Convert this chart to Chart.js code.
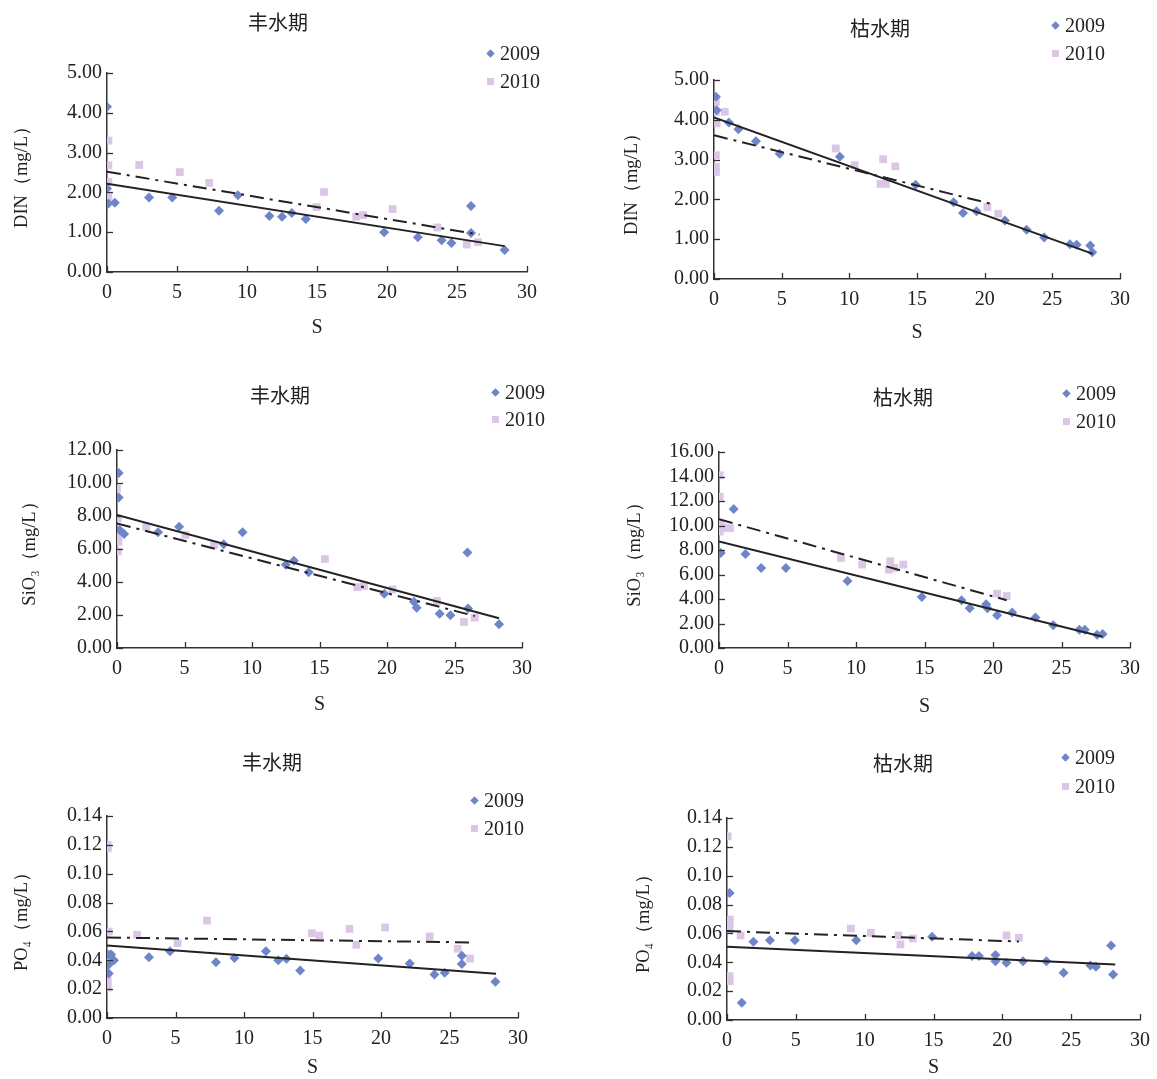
<!DOCTYPE html>
<html>
<head>
<meta charset="utf-8">
<script src="https://cdn.jsdelivr.net/npm/chart.js@4"></script>
<style>
  body { margin:0; width:1157px; height:1079px; overflow:hidden; position:relative; background:#fff; }
  canvas { position:absolute; }
  .legend { position:absolute; font-family:'Liberation Serif', serif; font-size:20px; color:#222; }
  .legend div { position:absolute; left:0; white-space:nowrap; line-height:24px; }
  .mk { display:inline-block; width:7px; height:7px; margin-right:6px; vertical-align:middle; position:relative; top:-2px; }
  .dia { background:#6e86c9; transform:rotate(45deg) scale(0.85,0.85); }
  .sq { background:#dcc6e6; }
</style>
</head>
<body>
<script>
// x axis (salinity S) ticks, shared by every panel
const xTicks = [0, 5, 10, 15, 20, 25, 30];

// DIN, wet season (丰水期)
const dinWet2009 = [[0,4.15],[0,2.10],[0.1,1.72],[0.56,1.74],[3.0,1.87],[4.66,1.87],[8.0,1.54],[9.35,1.93],[11.6,1.41],[12.5,1.39],[13.2,1.48],[14.2,1.33],[19.8,1.0],[22.2,0.87],[23.9,0.80],[24.6,0.73],[26.0,1.66],[26.0,0.98],[28.4,0.55]];
const dinWet2010 = [[0.1,3.30],[0.1,2.68],[0.1,2.26],[0.1,1.89],[2.3,2.69],[5.2,2.51],[7.3,2.24],[15.5,2.01],[14.97,1.63],[17.8,1.39],[18.3,1.43],[20.4,1.58],[23.6,1.12],[25.7,0.69],[26.5,0.75]];
const dinWetFit2009 = [[0,2.22],[28.4,0.65]];
const dinWetFit2010 = [[0,2.52],[26.6,0.94]];

// DIN, dry season (枯水期)
const dinDry2009 = [[0.14,4.58],[0.2,4.24],[1.1,3.93],[1.8,3.76],[3.1,3.46],[4.85,3.15],[9.3,3.07],[14.9,2.37],[17.7,1.93],[18.4,1.66],[19.4,1.70],[21.5,1.47],[23.1,1.24],[24.4,1.04],[26.3,0.87],[26.8,0.86],[27.8,0.84],[27.95,0.67]];
const dinDry2010 = [[0.14,4.45],[0.14,4.2],[0.2,3.91],[0.14,3.11],[0.14,2.82],[0.14,2.69],[0.8,4.20],[9.0,3.28],[10.4,2.86],[12.5,3.01],[12.3,2.39],[12.7,2.39],[13.4,2.83],[20.2,1.81],[21.0,1.64]];
const dinDryFit2009 = [[0,4.06],[28,0.63]];
const dinDryFit2010 = [[0,3.61],[20.7,1.87]];

// SiO3, wet season
const sioWet2009 = [[0.13,10.6],[0.13,9.12],[0.2,7.15],[0.53,6.91],[3.04,7.01],[4.6,7.35],[7.9,6.29],[9.3,7.01],[12.5,5.05],[13.1,5.29],[14.2,4.59],[19.8,3.29],[22.0,2.81],[22.2,2.44],[23.9,2.08],[24.7,1.98],[25.96,5.79],[26.0,2.40],[28.3,1.44]];
const sioWet2010 = [[0,9.66],[0.05,7.86],[0.1,6.85],[0.1,6.45],[0.05,5.85],[2.17,7.35],[5.07,6.85],[7.2,6.25],[15.4,5.39],[17.8,3.69],[18.3,3.75],[20.4,3.55],[23.7,2.85],[25.7,1.58],[26.5,1.84]];
const sioWetFit2009 = [[0,8.06],[28.3,1.80]];
const sioWetFit2010 = [[0,7.55],[26.5,1.94]];

// SiO3, dry season
const sioDry2009 = [[0.13,7.76],[1.07,11.35],[1.93,7.68],[3.08,6.54],[4.88,6.54],[9.38,5.46],[14.8,4.16],[17.7,3.89],[18.3,3.24],[19.5,3.57],[19.6,3.24],[20.3,2.68],[21.4,2.89],[23.1,2.49],[24.4,1.86],[26.3,1.49],[26.7,1.49],[27.6,1.08],[28.0,1.14]];
const sioDry2010 = [[0.05,14.1],[0.05,12.35],[0.13,10.19],[0.19,9.78],[0.46,9.84],[0.8,9.78],[0.05,9.5],[8.9,7.35],[10.45,6.81],[12.5,7.08],[12.4,6.4],[12.8,6.54],[13.45,6.81],[20.3,4.43],[21.0,4.24]];
const sioDryFit2009 = [[0,8.70],[28,0.92]];
const sioDryFit2010 = [[0,10.51],[21.0,3.9]];

// PO4, wet season
const po4Wet2009 = [[0.13,0.0439],[0.13,0.0371],[0.13,0.0309],[0.3,0.044],[0.51,0.0400],[3.06,0.0421],[4.6,0.0462],[7.95,0.0387],[9.3,0.0416],[11.6,0.0462],[12.5,0.0400],[13.1,0.0410],[14.1,0.0329],[19.8,0.0412],[22.1,0.0377],[23.9,0.0302],[24.65,0.0313],[25.9,0.0432],[25.9,0.0375],[28.35,0.0252]];
const po4Wet2010 = [[0.05,0.1199],[0.05,0.1176],[0.13,0.0599],[0.05,0.0416],[0.05,0.0261],[0.05,0.0210],[2.2,0.0577],[5.15,0.0519],[7.3,0.0675],[14.95,0.0588],[15.5,0.0572],[17.7,0.0618],[18.2,0.0508],[20.3,0.0627],[23.55,0.0565],[25.6,0.0480],[26.5,0.0412]];
const po4WetFit2009 = [[0,0.0503],[28.4,0.0307]];
const po4WetFit2010 = [[0,0.0558],[26.5,0.0524]];

// PO4, dry season
const po4Dry2009 = [[0.19,0.0881],[1.07,0.0120],[1.92,0.0542],[3.12,0.0553],[4.93,0.0553],[9.39,0.0553],[14.9,0.0577],[17.8,0.0443],[18.3,0.0443],[19.5,0.0450],[19.5,0.0408],[20.3,0.0397],[21.5,0.0408],[23.2,0.0408],[24.45,0.0327],[26.4,0.0378],[26.8,0.0369],[27.9,0.0517],[28.05,0.0316]];
const po4Dry2010 = [[0.05,0.1273],[0.19,0.0696],[0.19,0.0673],[0.19,0.0630],[0.19,0.0304],[0.19,0.0270],[0.99,0.0586],[9.0,0.0634],[10.45,0.0604],[12.45,0.0586],[12.6,0.0524],[13.5,0.0565],[20.3,0.0586],[21.2,0.0570]];
const po4DryFit2009 = [[0,0.0507],[28.2,0.0385]];
const po4DryFit2010 = [[0,0.0616],[21.2,0.0544]];

const yAxisW = 100;
const serif = "'Liberation Serif', 'Times New Roman', serif";
const ink = '#222';

// ticks drawn on the inside of the axes
const innerTicks = {
  id: 'innerTicks',
  afterDraw(chart) {
    const {ctx} = chart;
    const xs = chart.scales.x, ys = chart.scales.y;
    ctx.save();
    ctx.strokeStyle = '#333';
    ctx.lineWidth = 1.3;
    xs.ticks.forEach(t => {
      const px = Math.round(xs.getPixelForValue(t.value)) + 0.5;
      ctx.beginPath(); ctx.moveTo(px, ys.bottom); ctx.lineTo(px, ys.bottom - 6); ctx.stroke();
    });
    ys.ticks.forEach(t => {
      const py = Math.round(ys.getPixelForValue(t.value)) + 0.5;
      ctx.beginPath(); ctx.moveTo(xs.left, py); ctx.lineTo(xs.left + 6, py); ctx.stroke();
    });
    ctx.restore();
  }
};

const pts = arr => arr.map(([x, y]) => ({x, y}));

function panel(p) {
  const cLeft = p.plot[0] - yAxisW;
  const cTop = p.titleY - 22;
  const cW = 2 * (p.titleX - cLeft);
  const rightGap = cLeft + cW - p.plot[2];
  const xAxisH = p.sOff + 14;
  const cH = p.plot[3] - cTop + xAxisH;
  const canvas = document.createElement('canvas');
  canvas.width = cW; canvas.height = cH;
  canvas.style.left = cLeft + 'px';
  canvas.style.top = cTop + 'px';
  document.body.appendChild(canvas);

  new Chart(canvas, {
    type: 'scatter',
    data: {
      datasets: [
        {label: '2009 fit', data: pts(p.fit09), showLine: true, borderColor: ink, borderWidth: 2, pointRadius: 0},
        {label: '2010 fit', data: pts(p.fit10), showLine: true, borderColor: ink, borderWidth: 2, borderDash: [14, 6, 3, 6], pointRadius: 0},
        {label: '2009', data: pts(p.s09), pointStyle: 'rectRot', pointRadius: 5, backgroundColor: '#6e86c9', borderColor: '#6e86c9', borderWidth: 0},
        {label: '2010', data: pts(p.s10), pointStyle: 'rect', pointRadius: 5.5, backgroundColor: '#dcc6e6', borderColor: '#dcc6e6', borderWidth: 0}
      ]
    },
    options: {
      responsive: false,
      animation: false,
      layout: {padding: 0},
      plugins: {
        legend: {display: false},
        tooltip: {enabled: false},
        title: {
          display: true, text: p.title, color: ink,
          font: {family: "'Noto Sans CJK SC', sans-serif", size: 20, weight: 'normal'},
          padding: {top: 10, bottom: p.plot[1] - cTop - 34}
        }
      },
      scales: {
        x: {
          type: 'linear', min: 0, max: 30,
          afterBuildTicks: s => { s.ticks = xTicks.map(v => ({value: v})); },
          ticks: {color: ink, font: {family: serif, size: 20}, padding: 9, autoSkip: false},
          grid: {drawOnChartArea: false, drawTicks: false, color: '#333'},
          border: {color: '#333', width: 1.5},
          title: {display: true, text: 'S', color: ink, font: {family: serif, size: 20}, padding: {top: 0, bottom: 2}},
          afterFit: s => { s.height = xAxisH; }
        },
        y: {
          type: 'linear', min: 0, max: p.ymax,
          ticks: {stepSize: p.ystep, autoSkip: false, color: ink, font: {family: serif, size: 20}, padding: 5, callback: v => v.toFixed(2)},
          grid: {drawOnChartArea: false, drawTicks: false, color: '#333'},
          border: {color: '#333', width: 1.5},
          title: {display: true, text: p.ylabel, color: ink, font: {family: serif, size: 18.5}, padding: {top: yAxisW - p.yOff - 11, bottom: 0}},
          afterFit: s => { s.width = yAxisW; }
        },
        // empty right-hand scale that only reserves the space right of the plot
        gap: {
          type: 'linear', position: 'right', min: 0, max: 1,
          ticks: {display: false}, grid: {display: false}, border: {display: false},
          afterFit: s => { s.width = rightGap; }
        }
      }
    },
    plugins: [innerTicks]
  });

  const lg = document.createElement('div');
  lg.className = 'legend';
  lg.style.left = p.legend[0] + 'px';
  lg.style.top = (p.legend[1] - 12) + 'px';
  lg.innerHTML = '<div style="top:0"><span class="mk dia"></span>2009</div>' +
    '<div style="top:' + p.legend[2] + 'px"><span class="mk sq"></span>2010</div>';
  document.body.appendChild(lg);
}

panel({title: '丰水期', ylabel: 'DIN（mg/L）', ymax: 5, ystep: 1, plot: [107, 73, 527, 272], titleX: 278, titleY: 22, sOff: 56, yOff: 85, legend: [487, 53, 28],
  s09: dinWet2009, s10: dinWet2010, fit09: dinWetFit2009, fit10: dinWetFit2010});
panel({title: '枯水期', ylabel: 'DIN（mg/L）', ymax: 5, ystep: 1, plot: [714, 80, 1120, 279], titleX: 880, titleY: 28, sOff: 54, yOff: 82, legend: [1052, 25, 28],
  s09: dinDry2009, s10: dinDry2010, fit09: dinDryFit2009, fit10: dinDryFit2010});
panel({title: '丰水期', ylabel: 'SiO₃（mg/L）', ymax: 12, ystep: 2, plot: [117, 450, 522, 648], titleX: 280, titleY: 395, sOff: 57, yOff: 87, legend: [492, 392, 27],
  s09: sioWet2009, s10: sioWet2010, fit09: sioWetFit2009, fit10: sioWetFit2010});
panel({title: '枯水期', ylabel: 'SiO₃（mg/L）', ymax: 16, ystep: 2, plot: [719, 452, 1130, 648], titleX: 903, titleY: 397, sOff: 59, yOff: 84, legend: [1063, 393, 28],
  s09: sioDry2009, s10: sioDry2010, fit09: sioDryFit2009, fit10: sioDryFit2010});
panel({title: '丰水期', ylabel: 'PO₄（mg/L）', ymax: 0.14, ystep: 0.02, plot: [107, 816, 525, 1018], titleX: 272, titleY: 762, sOff: 50, yOff: 85, legend: [471, 800, 28],
  s09: po4Wet2009, s10: po4Wet2010, fit09: po4WetFit2009, fit10: po4WetFit2010});
panel({title: '枯水期', ylabel: 'PO₄（mg/L）', ymax: 0.14, ystep: 0.02, plot: [727, 818, 1140, 1020], titleX: 903, titleY: 763, sOff: 48, yOff: 83, legend: [1062, 757, 29],
  s09: po4Dry2009, s10: po4Dry2010, fit09: po4DryFit2009, fit10: po4DryFit2010});
</script>
</body>
</html>
